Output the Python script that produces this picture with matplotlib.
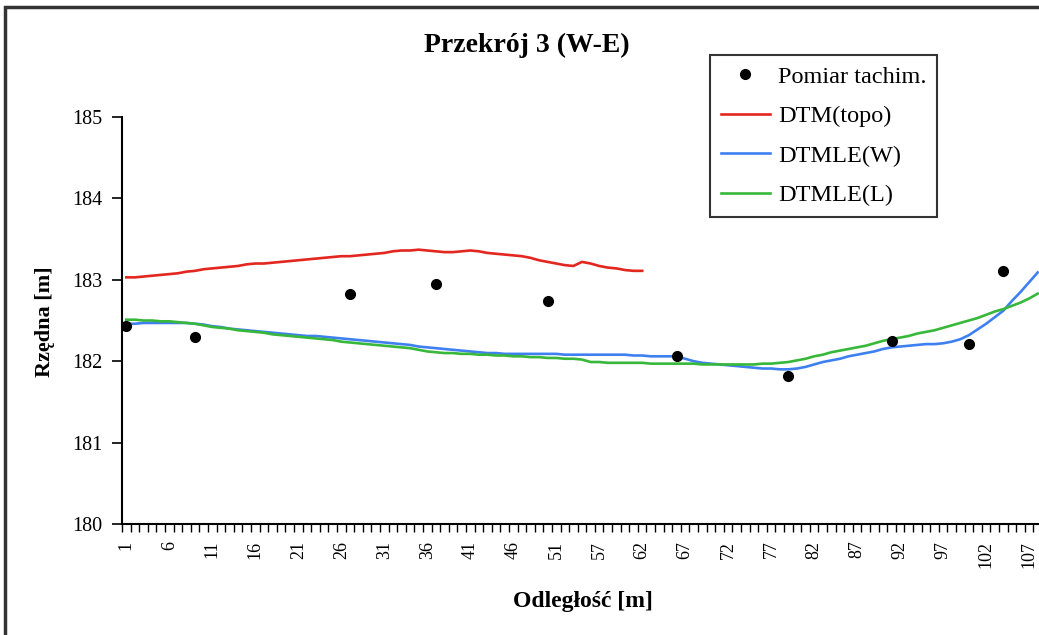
import numpy as np
import matplotlib
matplotlib.use("Agg")
import matplotlib.pyplot as plt
from matplotlib.patches import Rectangle

# distances along the profile [m] (54 is missing in the source table)
distances = list(range(1, 54)) + list(range(55, 109))

# DTM(topo) only covers the first part of the profile
dtm_topo = [183.03, 183.03, 183.04, 183.05, 183.06, 183.07, 183.08, 183.10, 183.11, 183.13,
            183.14, 183.15, 183.16, 183.17, 183.19, 183.20, 183.20, 183.21, 183.22, 183.23,
            183.24, 183.25, 183.26, 183.27, 183.28, 183.29, 183.29, 183.30, 183.31, 183.32,
            183.33, 183.35, 183.36, 183.36, 183.37, 183.36, 183.35, 183.34, 183.34, 183.35,
            183.36, 183.35, 183.33, 183.32, 183.31, 183.30, 183.29, 183.27, 183.24, 183.22,
            183.20, 183.18, 183.17, 183.22, 183.20, 183.17, 183.15, 183.14, 183.12, 183.11,
            183.11]

dtmle_w = [182.46, 182.46, 182.47, 182.47, 182.47, 182.47, 182.47, 182.47, 182.46, 182.45,
           182.43, 182.42, 182.40, 182.39, 182.38, 182.37, 182.36, 182.35, 182.34, 182.33,
           182.32, 182.31, 182.31, 182.30, 182.29, 182.28, 182.27, 182.26, 182.25, 182.24,
           182.23, 182.22, 182.21, 182.20, 182.18, 182.17, 182.16, 182.15, 182.14, 182.13,
           182.12, 182.11, 182.10, 182.10, 182.09, 182.09, 182.09, 182.09, 182.09, 182.09,
           182.09, 182.08, 182.08, 182.08, 182.08, 182.08, 182.08, 182.08, 182.08, 182.07,
           182.07, 182.06, 182.06, 182.06, 182.06, 182.03, 182.00, 181.98, 181.97, 181.96,
           181.95, 181.94, 181.93, 181.92, 181.91, 181.91, 181.90, 181.90, 181.91, 181.93,
           181.96, 181.99, 182.01, 182.03, 182.06, 182.08, 182.10, 182.12, 182.15, 182.17,
           182.18, 182.19, 182.20, 182.21, 182.21, 182.22, 182.24, 182.27, 182.32, 182.39,
           182.46, 182.54, 182.62, 182.74, 182.85, 182.97, 183.09]

dtmle_l = [182.51, 182.51, 182.50, 182.50, 182.49, 182.49, 182.48, 182.47, 182.46, 182.44,
           182.42, 182.41, 182.40, 182.38, 182.37, 182.36, 182.35, 182.33, 182.32, 182.31,
           182.30, 182.29, 182.28, 182.27, 182.26, 182.24, 182.23, 182.22, 182.21, 182.20,
           182.19, 182.18, 182.17, 182.16, 182.14, 182.12, 182.11, 182.10, 182.10, 182.09,
           182.09, 182.08, 182.08, 182.07, 182.07, 182.06, 182.06, 182.05, 182.05, 182.04,
           182.04, 182.03, 182.03, 182.02, 181.99, 181.99, 181.98, 181.98, 181.98, 181.98,
           181.98, 181.97, 181.97, 181.97, 181.97, 181.97, 181.97, 181.96, 181.96, 181.96,
           181.96, 181.96, 181.96, 181.96, 181.97, 181.97, 181.98, 181.99, 182.01, 182.03,
           182.06, 182.08, 182.11, 182.13, 182.15, 182.17, 182.19, 182.22, 182.25, 182.27,
           182.29, 182.31, 182.34, 182.36, 182.38, 182.41, 182.44, 182.47, 182.50, 182.53,
           182.57, 182.61, 182.64, 182.68, 182.72, 182.77, 182.83]

# tachymetric survey points
pomiar_dist = [1, 9, 27, 37, 50, 66, 79, 91, 100, 104]
pomiar_h = [182.43, 182.30, 182.83, 182.95, 182.74, 182.06, 181.82, 182.25, 182.21, 183.11]

serif = "Liberation Serif"
plt.rcParams["font.family"] = serif

fig = plt.figure(figsize=(10.39, 6.35), dpi=100)
ax = fig.add_axes([122 / 1039, 111 / 635, 920 / 1039, 407 / 635])

idx = {d: i for i, d in enumerate(distances)}
pts_x = [idx[d] for d in pomiar_dist]

ax.plot(pts_x, pomiar_h, "o", color="black", markersize=7, zorder=5, label="Pomiar tachim.")
ax.plot(range(len(dtm_topo)), dtm_topo, color="#e3261f", lw=1.9, label="DTM(topo)")
ax.plot(range(len(dtmle_w)), dtmle_w, color="#3f80f0", lw=1.9, label="DTMLE(W)")
ax.plot(range(len(dtmle_l)), dtmle_l, color="#38b83a", lw=1.9, label="DTMLE(L)")

ax.set_xlim(-0.5, len(distances) - 0.5)
ax.set_ylim(180, 185)
ax.set_yticks([180, 181, 182, 183, 184, 185])
ax.tick_params(axis="y", labelsize=14.5, length=7, width=1.2, pad=7)

ax.set_xticks(range(0, len(distances), 5))
ax.set_xticklabels([str(d) for d in distances[::5]], rotation=90, fontsize=13)
ax.set_xticks(np.arange(-0.5, len(distances), 1), minor=True)
ax.tick_params(axis="x", which="major", length=0, pad=12)
ax.tick_params(axis="x", which="minor", length=6, width=1)

for s in ["top", "right"]:
    ax.spines[s].set_visible(False)
for s in ["left", "bottom"]:
    ax.spines[s].set_linewidth(1.5)

fig.text(527 / 1039, 1 - 45 / 635, "Przekrój 3 (W-E)", ha="center", va="center",
         fontsize=20, fontweight="bold")
fig.text(45 / 1039, 1 - 322 / 635, "Rzędna [m]", ha="center", va="center",
         rotation=90, fontsize=16, fontweight="bold")
fig.text(583 / 1039, 1 - 602 / 635, "Odległość [m]", ha="center", va="center",
         fontsize=17, fontweight="bold")

leg = fig.legend(loc="upper left", bbox_to_anchor=(710 / 1039, 1 - 55 / 635),
                 fontsize=17.5, frameon=True, fancybox=False, handlelength=2.0,
                 handletextpad=0.35, labelspacing=0.72, borderpad=0.45, borderaxespad=0)
leg.get_frame().set_edgecolor("black")
leg.get_frame().set_linewidth(1.5)

# chart area border (right and bottom edges are cut off)
fig.patches.append(Rectangle((5 / 1039, -0.1), 1.2, 1.1 - 7 / 635, transform=fig.transFigure,
                             fill=False, lw=2.5, ec="#333333"))

fig.savefig("out.png", dpi=100)
